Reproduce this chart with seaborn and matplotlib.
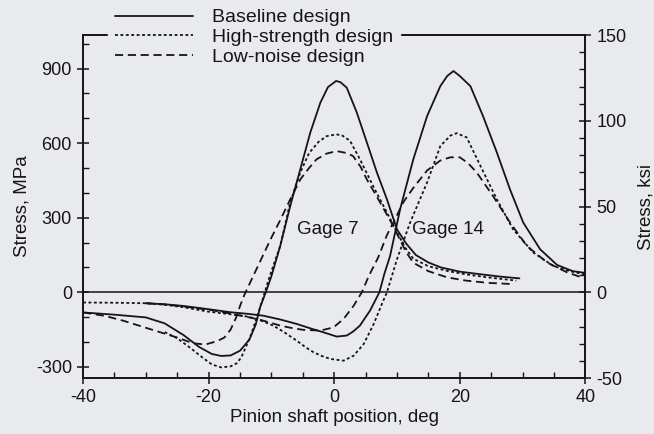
import numpy as np
import pandas as pd
import matplotlib
matplotlib.use('Agg')
import matplotlib.pyplot as plt
from matplotlib.lines import Line2D
from matplotlib.ticker import MultipleLocator
import seaborn as sns

# values (deg, MPa)
g7_base_x = [-40, -35, -30, -27, -24, -21.5, -19.5, -18, -16.5, -15, -13.5, -12.5, -11.8, -10.9, -10, -8.6, -7,
             -5.4, -3.8, -2.2, -1, 0.3, 1, 2, 3.6, 5.2, 6.8, 8.4, 10, 11.5, 13, 15, 17, 20, 23.5, 26.5, 29.5]
g7_base_y = [-81, -90, -101, -125, -172, -220, -248, -256, -254, -235, -190, -130, -60, 0, 65, 186, 347,
             495, 643, 763, 825, 850, 845, 823, 723, 603, 482, 374, 253, 195, 150, 120, 100, 83, 72, 63, 56]

g7_hs_x = [-27, -25, -23, -21, -19.5, -18, -16.5, -15.5, -14.8, -13.4, -12.3, -11.3, -10.7, -10, -8.6, -7,
           -5.4, -4, -2.5, -1.2, 0.3, 1.2, 2.5, 4.1, 6.2, 8.4, 10, 11.3, 12.6, 15, 18, 21, 24.5, 29]
g7_hs_y = [-160, -185, -222, -262, -290, -302, -298, -285, -262, -181, -100, -20, 30, 85, 186, 362,
           482, 560, 605, 628, 635, 632, 610, 535, 427, 321, 241, 180, 135, 105, 86, 72, 60, 47]

g7_ln_x = [-40, -36.5, -33.5, -29.2, -25, -22.5, -20.5, -18.6, -17.5, -16.5, -15.5, -15, -14.3, -13, -11.5,
           -10, -8.6, -7, -5.4, -4, -2.8, -1.2, 0.4, 2, 3, 4.2, 5.2, 7.3, 9.4, 10.5, 11.5, 12.6, 15, 18, 21,
           24.5, 28.5]
g7_ln_y = [-81, -95, -115, -149, -182, -205, -210, -196, -182, -150, -95, -55, -10, 60, 140,
           220, 290, 374, 454, 500, 535, 558, 568, 560, 548, 505, 454, 362, 267, 210, 160, 119, 85, 60, 47,
           38, 33]

g14_base_x = [-30, -27, -24, -20, -16.6, -14, -11.3, -8.5, -6, -3.8, -1.7, 0.4, 2, 3, 4.1, 5, 5.7, 7.2, 8,
              8.9, 10.5, 12.6, 14.8, 16.9, 18, 19, 20, 21.7, 23.7, 25.9, 28, 30.1, 32.8, 35.5, 38, 40]
g14_base_y = [-44, -48, -55, -68, -80, -86, -94, -110, -127, -145, -161, -178, -174, -158, -134, -100, -74,
              0, 75, 146, 334, 535, 709, 829, 870, 890, 870, 829, 709, 563, 414, 281, 173, 110, 85, 78]

g14_hs_x = [-40, -35, -30, -27, -24, -20, -16.6, -14, -12.3, -9.7, -8, -6, -4.5, -3.3, -2, -0.6, 1.5, 3.1,
            4.7, 6.3, 7.6, 8.4, 10, 12.1, 14.8, 16.9, 18.5, 19.5, 21.1, 23.3, 25.9, 28.5, 31.7, 34.9, 37.5, 40]
g14_hs_y = [-41, -42, -44, -50, -60, -78, -88, -97, -107, -134, -160, -194, -222, -241, -256, -268, -275,
            -255, -208, -127, -47, 0, 133, 281, 442, 588, 630, 640, 623, 508, 374, 253, 160, 106, 85, 72]

g14_ln_x = [-30, -27, -24, -20, -16.6, -14, -11.3, -8.6, -6.5, -4.9, -2.2, -0.1, 1.5, 3.1, 4.4, 5.5, 7, 8.4,
            10, 11, 12.6, 14.8, 16.9, 18.5, 20, 21.3, 22.7, 25.3, 28, 30.7, 33.9, 37.1, 40]
g14_ln_y = [-44, -49, -57, -70, -85, -98, -114, -134, -145, -151, -154, -141, -107, -54, 0, 65, 140, 230,
            310, 362, 420, 490, 530, 543, 543, 520, 482, 387, 281, 186, 120, 80, 55]

designs = ['Baseline design', 'High-strength design', 'Low-noise design']
MPA_PER_KSI = 6.895

bg = '#e9eaee'
ink = '#151515'

sns.set_theme(style='ticks')
plt.rcParams['font.family'] = ['Liberation Sans', 'DejaVu Sans']
plt.rcParams['axes.unicode_minus'] = False
plt.rcParams['text.color'] = ink
plt.rcParams['axes.labelcolor'] = ink

styles = {
    'Baseline design': '-',
    'High-strength design': (0, (1.6, 1.4)),
    'Low-noise design': (0, (4.5, 2.6)),
}

fig = plt.figure(figsize=(6.54, 4.34), dpi=100, facecolor=bg)
ax = fig.add_axes([0.127, 0.129, 0.768, 0.790])
ax.set_facecolor(bg)

curves = [
    (g7_base_x, g7_base_y, 'Baseline design'),
    (g7_hs_x, g7_hs_y, 'High-strength design'),
    (g7_ln_x, g7_ln_y, 'Low-noise design'),
    (g14_base_x, g14_base_y, 'Baseline design'),
    (g14_hs_x, g14_hs_y, 'High-strength design'),
    (g14_ln_x, g14_ln_y, 'Low-noise design'),
]
for xs, ys, d in curves:
    sns.lineplot(x=xs, y=ys, ax=ax, color=ink, lw=1.3, linestyle=styles[d],
                 estimator=None, sort=False, legend=False)

ax.axhline(0, color=ink, lw=1.1)

ymin, ymax = -50 * MPA_PER_KSI, 150 * MPA_PER_KSI
ax.set_xlim(-40, 40)
ax.set_ylim(ymin, ymax)
ax.set_xticks([-40, -20, 0, 20, 40])
ax.set_yticks([-300, 0, 300, 600, 900])
ax.xaxis.set_minor_locator(MultipleLocator(5))
ax.yaxis.set_minor_locator(MultipleLocator(100))
ax.tick_params(which='major', direction='inout', length=8, width=1.1, labelsize=13, colors=ink, pad=4)
ax.tick_params(which='minor', direction='in', length=4, width=1.0, colors=ink)
ax.set_xlabel('Pinion shaft position, deg', fontsize=13.5, labelpad=2)
ax.set_ylabel('Stress, MPa', fontsize=13.5, labelpad=4)

ax2 = ax.twinx()
ax2.set_ylim(ymin / MPA_PER_KSI, ymax / MPA_PER_KSI)
ax2.set_yticks([-50, 0, 50, 100, 150])
ax2.yaxis.set_minor_locator(MultipleLocator(10))
ax2.tick_params(which='major', direction='inout', length=8, width=1.1, labelsize=13, colors=ink, pad=4)
ax2.tick_params(which='minor', direction='in', length=4, width=1.0, colors=ink)
ax2.set_ylabel('Stress, ksi', fontsize=13.5, labelpad=8)

for a in (ax, ax2):
    for s in a.spines.values():
        s.set_linewidth(1.2)
        s.set_color(ink)

ax.text(-5.9, 253, 'Gage 7', fontsize=13.5, va='center', ha='left')
ax.text(12.4, 253, 'Gage 14', fontsize=13.5, va='center', ha='left')

handles = [Line2D([], [], color=ink, lw=1.3, linestyle=styles[d]) for d in designs]
leg = ax2.legend(handles, designs, loc='upper left', bbox_to_anchor=(106 / 654, 1.0),
                 bbox_transform=fig.transFigure, fontsize=14, frameon=True, fancybox=False,
                 facecolor=bg, edgecolor=bg, framealpha=1, handlelength=4.0,
                 handletextpad=1.0, labelspacing=0.12, borderpad=0.35, borderaxespad=0.1)
leg.set_zorder(10)

fig.savefig('out.png', dpi=100, facecolor=bg)
